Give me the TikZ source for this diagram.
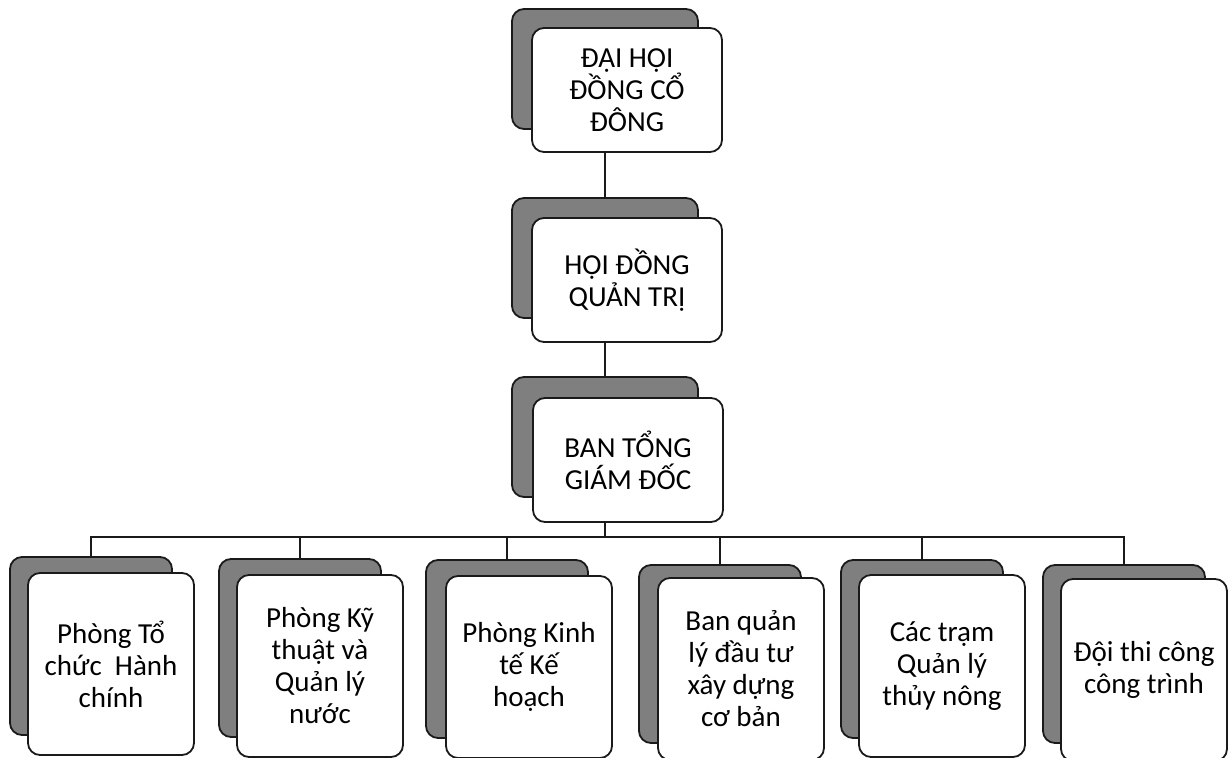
\documentclass[tikz,border=0pt]{standalone}
\usepackage{fontspec}
\setmainfont{Carlito}
\usepackage{xcolor}
\usepackage{tikz}
\usetikzlibrary{calc}
\definecolor{OCShade}{HTML}{7F7F7F}
\definecolor{OCLine}{HTML}{1A1A1A}

\begin{document}
\begin{tikzpicture}[x=0.5pt,y=-0.5pt,
  shadebox/.style={draw=OCLine,fill=OCShade,rounded corners=6pt,line width=0.9pt,inner sep=0pt},
  topshade/.style={shadebox,minimum width=93pt,minimum height=60pt},
  subshade/.style={shadebox,minimum width=81pt,minimum height=89pt},
  topbox/.style={draw=OCLine,fill=white,rounded corners=6pt,line width=0.9pt,inner sep=0pt,
    minimum width=95pt,minimum height=62pt,align=center,font=\fontsize{14.5}{16}\selectfont},
  subbox/.style={topbox,minimum width=83pt,minimum height=91pt},
  link/.style={draw=OCLine,line width=0.9pt}]
\path[use as bounding box] (0,0) rectangle (1232,758);
% top chain
\node[topshade] (s1) at (605,69) {};
\node[topbox] (n1) at (627,90) {ĐẠI HỘI\\ĐỒNG CỔ\\ĐÔNG};
\node[topshade] (s2) at (605,258) {};
\node[topbox] (n2) at (627,280) {HỘI ĐỒNG\\QUẢN TRỊ};
\node[topshade] (s3) at (605,437) {};
\node[topbox] (n3) at (628,460) {BAN TỔNG\\GIÁM ĐỐC};
\draw[link] (n1.south -| s1) -- (s2.north);
\draw[link] (n2.south -| s2) -- (s3.north);
% departments
\node[subshade] (sa) at (91,646) {};
\node[subbox] (na) at (111,664) {Phòng Tổ\\chức~~Hành\\chính};
\node[subshade] (sb) at (300,648) {};
\node[subbox] (nb) at (320,666) {Phòng Kỹ\\thuật và\\Quản lý\\nước};
\node[subshade] (sc) at (507,649) {};
\node[subbox] (nc) at (529,667) {Phòng Kinh\\tế Kế\\hoạch};
\node[subshade] (sd) at (720,654) {};
\node[subbox] (nd) at (741,669) {Ban quản\\lý đầu tư\\xây dựng\\cơ bản};
\node[subshade] (se) at (922,649) {};
\node[subbox] (ne) at (942,666) {Các trạm\\Quản lý\\thủy nông};
\node[subshade] (sf) at (1124,654) {};
\node[subbox] (nf) at (1144,670) {Đội thi công\\công trình};
% bus
\draw[link] (n3.south -| s3) -- ++(0,14) coordinate (bus);
\foreach \k in {a,b,c,d,e,f}
  \draw[link] (bus) -| (s\k.north);
\end{tikzpicture}
\end{document}
